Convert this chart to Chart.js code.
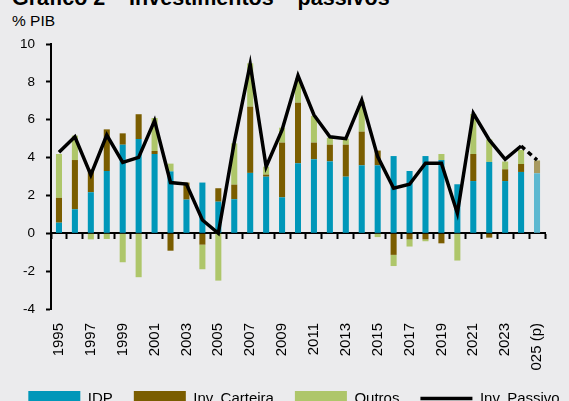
<!DOCTYPE html>
<html>
<head>
<meta charset="utf-8">
<script src="https://cdn.jsdelivr.net/npm/chart.js@4/dist/chart.umd.min.js"></script>
<style>
  html, body { margin: 0; padding: 0; background: #ebebed; overflow: hidden; width: 569px; height: 401px; }
  body { position: relative; font-family: "Liberation Sans", Arial, sans-serif; color: #000; }
  #titulo { position: absolute; left: 12px; top: -12px; font-size: 21.5px; line-height: 21px; font-weight: bold; white-space: nowrap; }
  #unidade { position: absolute; left: 12px; top: 13px; font-size: 15.5px; line-height: 16px; white-space: nowrap; }
  #grafico { position: absolute; left: 0; top: 0; }
</style>
</head>
<body>
<div id="titulo">Gráfico 2 – Investimentos – passivos</div>
<div id="unidade">% PIB</div>
<canvas id="grafico" width="588" height="416"></canvas>
<script>
const anos = ['1995','1996','1997','1998','1999','2000','2001','2002','2003','2004',
  '2005','2006','2007','2008','2009','2010','2011','2012','2013','2014',
  '2015','2016','2017','2018','2019','2020','2021','2022','2023','2024','2025 (p)'];

const idp = [0.56,1.27,2.17,3.29,4.68,4.98,4.19,3.27,1.78,2.68,
  1.67,1.80,3.19,2.99,1.90,3.70,3.91,3.80,2.99,3.59,
  3.59,4.08,3.29,4.08,3.87,2.59,2.76,3.77,2.76,3.24,3.17];

const invCarteira = [1.31,2.60,1.20,2.20,0.60,1.31,0.16,-0.92,0.90,-0.60,
  0.71,0.77,3.50,0.11,2.89,3.20,0.88,0.88,1.69,1.78,
  0.78,-1.14,-0.32,-0.32,-0.53,0,1.43,-0.23,0.62,0.42,0.67];

const outros = [2.32,1.29,-0.32,-0.30,-1.53,-2.32,1.74,0.41,0,-1.30,
  -2.50,2.18,2.29,0.42,0.79,1.29,1.41,0.37,0.32,1.58,
  -0.20,-0.59,-0.38,-0.10,0.32,-1.44,2.11,1.19,0.41,0.74,0.03];

const invPassivo = [4.28,5.10,3.08,5.19,3.75,4.01,5.95,2.68,2.60,0.70,
  0,4.80,8.94,3.52,5.46,8.33,6.25,5.10,5.00,7.04,
  4.05,2.38,2.59,3.70,3.70,1.06,6.34,4.93,3.91,4.61,3.87];

const ultimo = anos.length - 1;
// o ano de projeção (p) usa tons mais claros
const tons = (normal, proj) => anos.map((a, i) => i === ultimo ? proj : normal);

const corIdp = '#0097b9', corCarteira = '#7a5d00', corOutros = '#aec66a';
const fonte = '"Liberation Sans", Arial, sans-serif';
const larguraTela = 588, direitaArea = 545;

new Chart(document.getElementById('grafico'), {
  type: 'bar',
  data: {
    labels: anos,
    datasets: [
      { label: 'IDP', data: idp, backgroundColor: tons(corIdp, '#5db8d0'), order: 1 },
      { label: 'Inv. Carteira', data: invCarteira, backgroundColor: tons(corCarteira, '#a89a5f'), order: 1 },
      { label: 'Outros', data: outros, backgroundColor: tons(corOutros, '#c9d89e'), order: 1 },
      {
        type: 'line', label: 'Inv. Passivo', data: invPassivo, stack: 'linha', order: 0,
        borderColor: '#000', borderWidth: 3.5, pointRadius: 0, tension: 0, fill: false,
        segment: { borderDash: ctx => ctx.p1DataIndex === ultimo ? [5, 4] : undefined }
      }
    ]
  },
  options: {
    responsive: false,
    animation: false,
    devicePixelRatio: 1,
    layout: { padding: { top: 44, left: 0, right: 0, bottom: 0 } },
    datasets: { bar: { categoryPercentage: 1, barPercentage: 0.38 } },
    plugins: {
      tooltip: { enabled: false },
      legend: {
        position: 'bottom',
        labels: {
          color: '#000',
          font: { family: fonte, size: 15 },
          usePointStyle: true,
          pointStyleWidth: 52,
          padding: 21,
          generateLabels: chart => chart.data.datasets.map((ds, i) => ({
            text: ds.label,
            datasetIndex: i,
            hidden: false,
            fillStyle: ds.type === 'line' ? '#000' : ds.backgroundColor[0],
            strokeStyle: '#000',
            lineWidth: ds.type === 'line' ? 3.5 : 0,
            pointStyle: ds.type === 'line' ? 'line' : 'rect'
          }))
        }
      }
    },
    scales: {
      x: {
        stacked: true,
        offset: true,
        grid: { display: false, drawTicks: false },
        border: { display: false },
        ticks: {
          autoSkip: false, minRotation: 90, maxRotation: 90, padding: 14,
          color: '#000', font: { family: fonte, size: 15 },
          callback: (v, i) => i % 2 === 0 ? anos[i] : ''
        },
        afterFit: s => { s.height = 61; }
      },
      // eixo horizontal desenhado sobre o zero, só com traços
      x0: {
        axis: 'x', type: 'category', labels: anos, offset: true,
        position: { y: 0 }, z: 1,
        grid: { display: true, offset: true, drawOnChartArea: false, drawTicks: true, tickLength: 5, tickWidth: 2, color: '#000' },
        border: { display: true, width: 2, color: '#000' },
        ticks: { display: false }
      },
      y: {
        stacked: true,
        min: -4, max: 10,
        ticks: { stepSize: 2, padding: 11, color: '#000', font: { family: fonte, size: 13.5 } },
        grid: { display: true, drawOnChartArea: false, drawTicks: true, tickLength: 5, tickWidth: 2, color: '#000' },
        border: { display: true, width: 2, color: '#000' },
        afterFit: s => { s.width = 51; }
      },
      // eixo vazio à direita: reserva espaço para a legenda passar da área do gráfico
      yr: {
        type: 'linear', position: 'right',
        grid: { display: false, drawTicks: false },
        border: { display: false },
        ticks: { display: false },
        afterFit: s => { s.width = larguraTela - direitaArea; }
      }
    }
  }
});
</script>
</body>
</html>
